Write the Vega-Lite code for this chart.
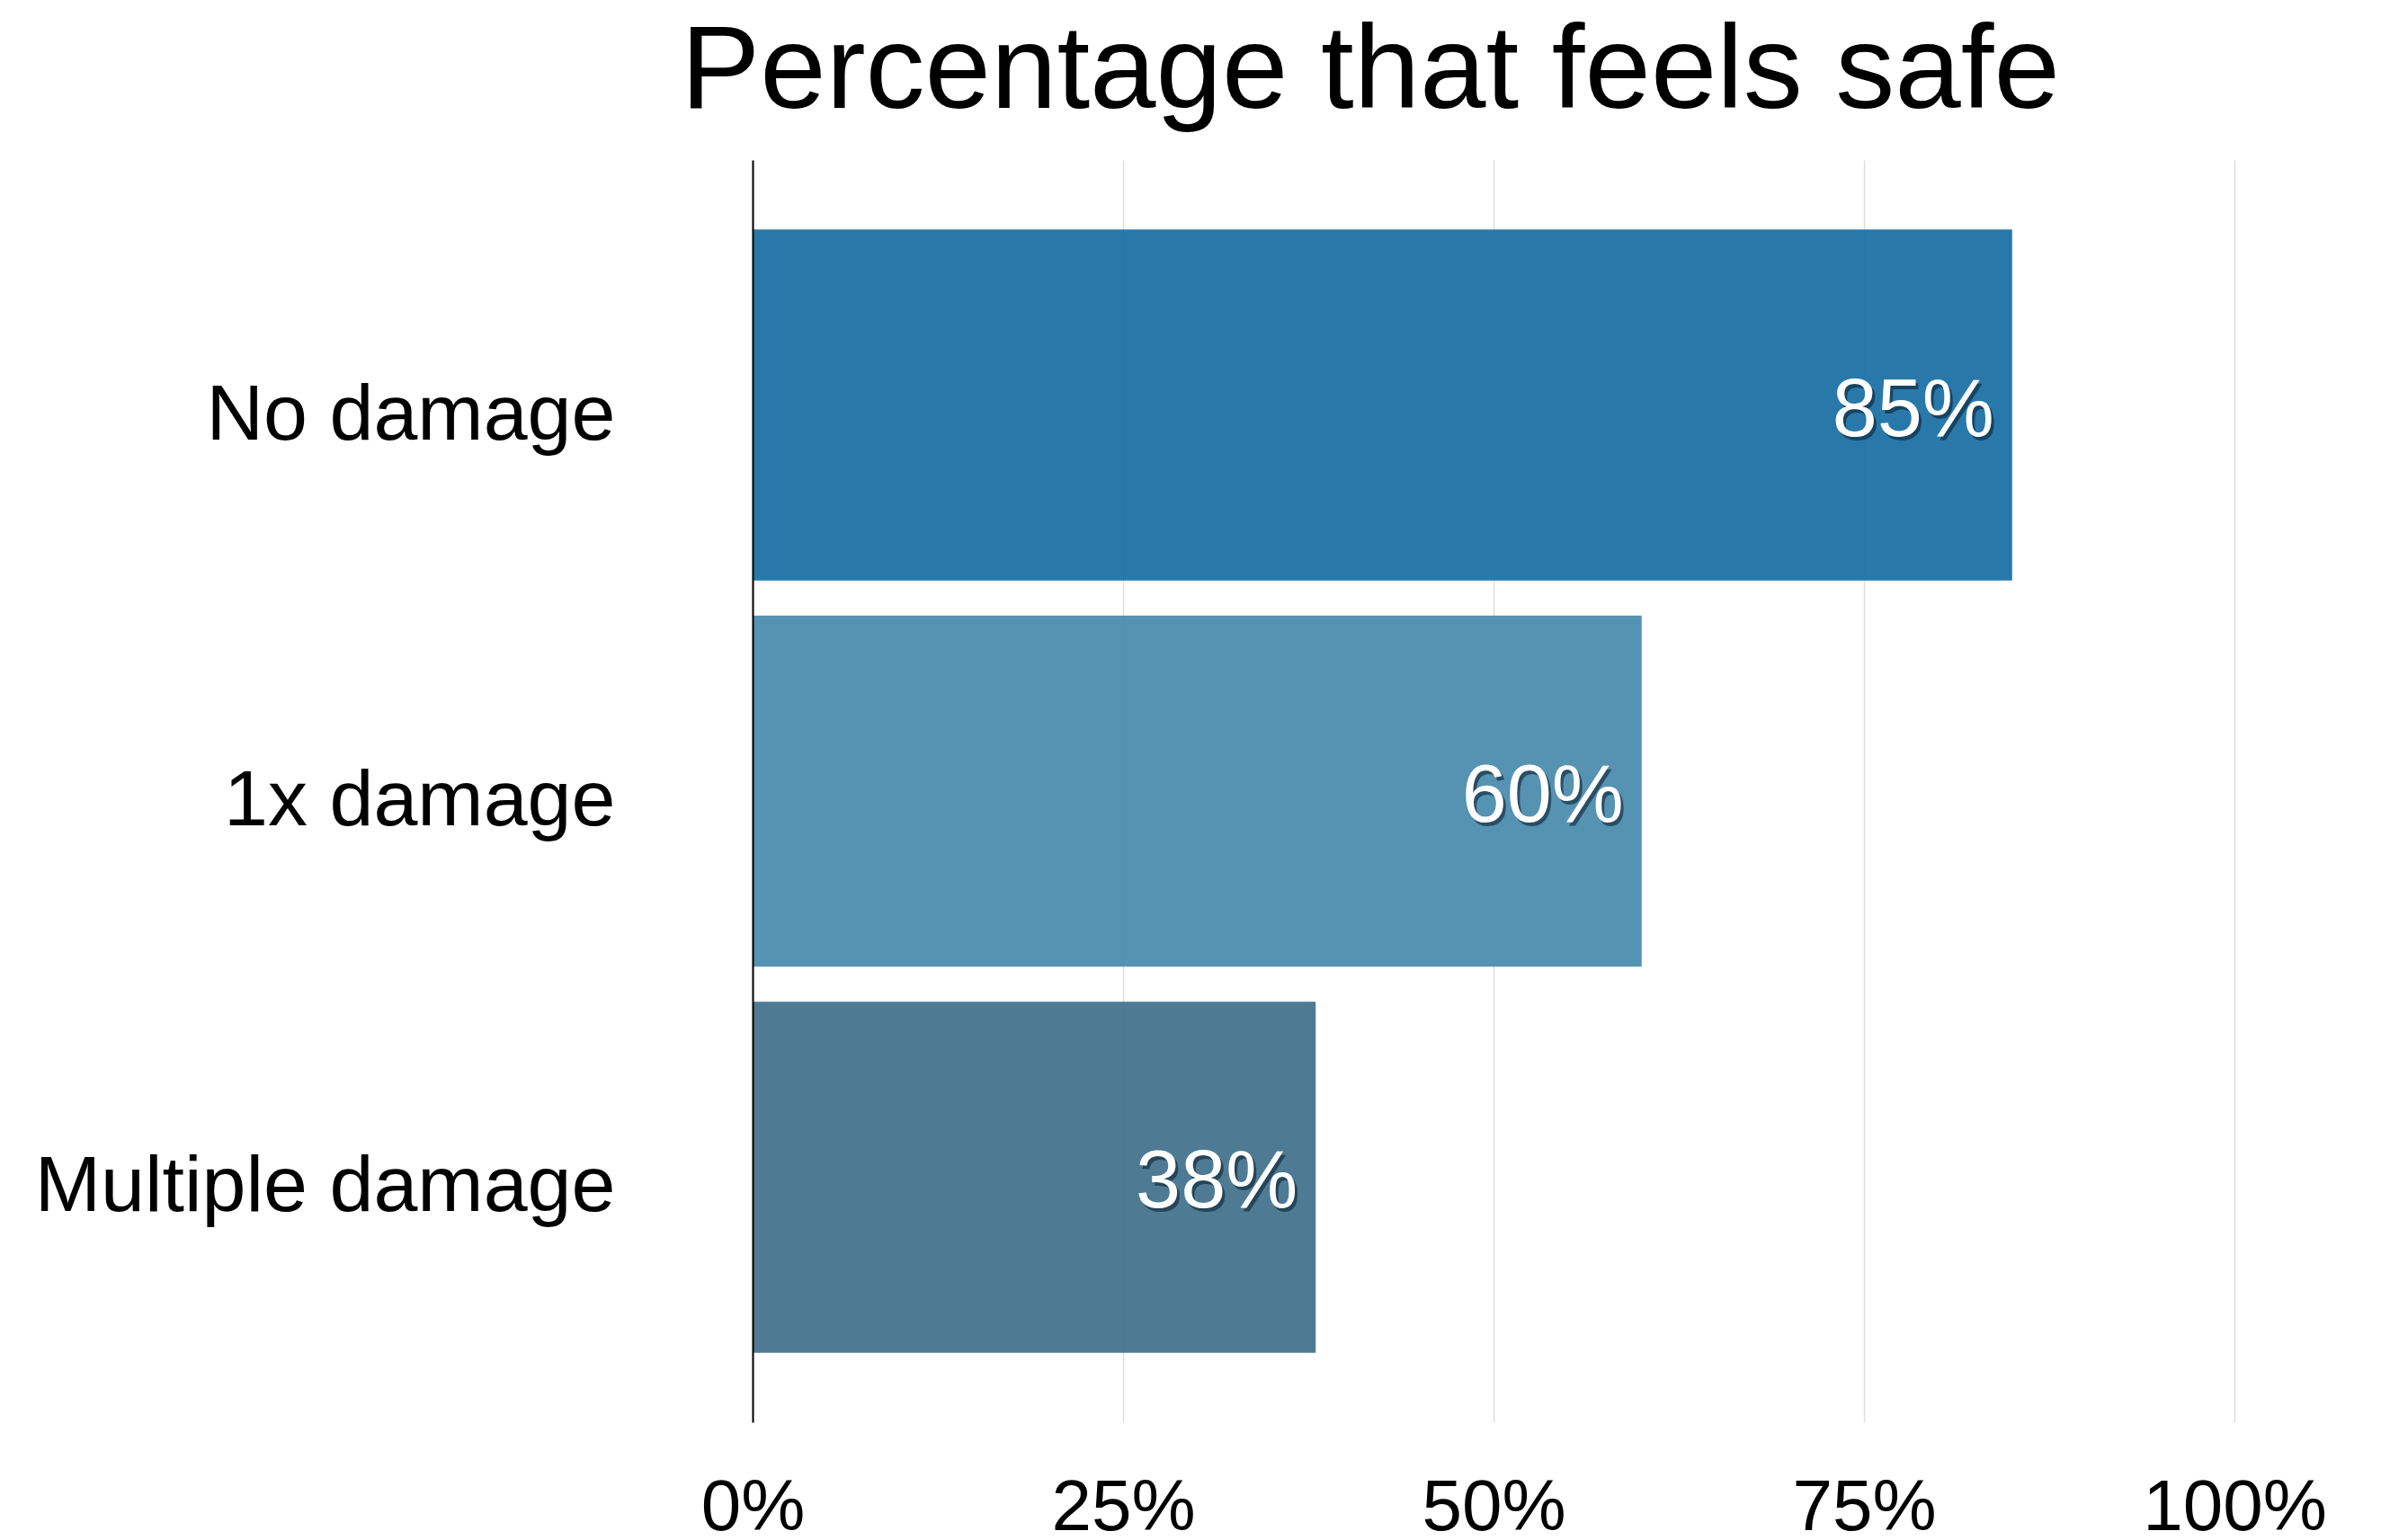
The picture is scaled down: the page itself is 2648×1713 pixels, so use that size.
{
  "$schema": "https://vega.github.io/schema/vega-lite/v6.json",
  "autosize": "none",
  "width": 1648,
  "height": 1404,
  "padding": {"left": 837, "top": 178, "right": 163, "bottom": 131},
  "background": "white",
  "title": {
    "text": "Percentage that feels safe",
    "font": "Liberation Sans",
    "fontSize": 132,
    "fontWeight": "normal",
    "color": "black",
    "anchor": "middle",
    "dx": -137,
    "offset": 30
  },
  "data": {
    "values": [
      {"group": "No damage", "value": 0.85},
      {"group": "1x damage", "value": 0.60},
      {"group": "Multiple damage", "value": 0.38}
    ]
  },
  "config": {
    "view": {"stroke": null},
    "font": "Liberation Sans"
  },
  "encoding": {
    "y": {
      "field": "group",
      "type": "nominal",
      "sort": ["No damage", "1x damage", "Multiple damage"],
      "scale": {"paddingInner": 0.0909, "paddingOuter": 0.18},
      "axis": {
        "title": null,
        "domain": true,
        "domainColor": "black",
        "domainWidth": 2,
        "ticks": false,
        "labelFontSize": 88,
        "labelColor": "black",
        "labelPadding": 153,
        "labelOffset": 12,
        "labelLimit": 0,
        "labelFont": "Liberation Sans",
        "grid": false,
        "zindex": 2
      }
    },
    "x": {
      "field": "value",
      "type": "quantitative",
      "scale": {"domain": [0, 1], "nice": false},
      "axis": {
        "title": null,
        "format": ".0%",
        "values": [0, 0.25, 0.5, 0.75, 1],
        "domain": false,
        "ticks": false,
        "grid": true,
        "gridColor": "#dddddd",
        "gridWidth": 1.5,
        "labelFontSize": 80,
        "labelColor": "black",
        "labelPadding": 56,
        "labelLimit": 0,
        "labelFont": "Liberation Sans",
        "labelFlush": false
      }
    }
  },
  "layer": [
    {
      "mark": {"type": "bar", "fillOpacity": 0.93},
      "encoding": {
        "color": {
          "field": "group",
          "type": "nominal",
          "scale": {
            "domain": ["No damage", "1x damage", "Multiple damage"],
            "range": ["#186FA4", "#498AAC", "#41718B"]
          },
          "legend": null
        }
      }
    },
    {
      "mark": {"type": "text", "align": "right", "baseline": "middle", "dx": -17, "dy": 11, "fontSize": 90, "font": "Liberation Sans", "color": "#0b2233", "opacity": 0.6},
      "encoding": {"text": {"field": "value", "type": "quantitative", "format": ".0%"}}
    },
    {
      "mark": {"type": "text", "align": "right", "baseline": "middle", "dx": -20, "dy": 7, "fontSize": 90, "font": "Liberation Sans", "color": "white"},
      "encoding": {"text": {"field": "value", "type": "quantitative", "format": ".0%"}}
    }
  ]
}
